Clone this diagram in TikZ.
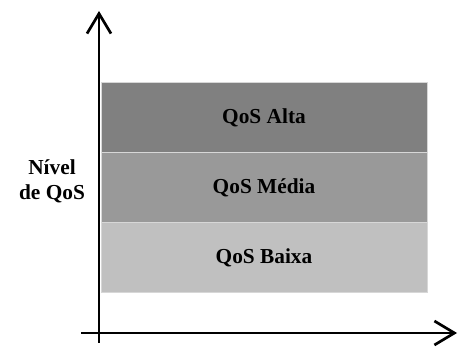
\documentclass[tikz,border=0pt]{standalone}
\usepackage{fontspec}
\setmainfont{Liberation Serif}
\usetikzlibrary{positioning,arrows.meta}
\definecolor{qosalta}{RGB}{128, 128, 128}
\definecolor{qosmedia}{RGB}{153, 153, 153}
\definecolor{qosbaixa}{RGB}{192, 192, 192}
\definecolor{bandedge}{RGB}{215, 215, 215}
\tikzstyle{band} = [rectangle, draw=bandedge, line width=0.6pt, minimum width=244.5pt,
    minimum height=52.5pt, inner sep=0pt, outer sep=0pt, font=\bfseries\fontsize{16}{19}\selectfont]
\tikzstyle{axis} = [draw, line width=2.2pt, -{Straight Barb[length=15pt, width=18pt, line width=2pt]}]

\begin{document}
\begin{tikzpicture}[x=0.75pt, y=0.75pt]
  \useasboundingbox (0,0) rectangle (458,347);
  \node [band, fill=qosalta] (alta) at (264,229.5) {QoS Alta};
  \node [band, fill=qosmedia, below=0pt of alta] (media) {QoS Média};
  \node [band, fill=qosbaixa, below=0pt of media] (baixa) {QoS Baixa};
  \node [font=\bfseries\fontsize{16}{19}\selectfont, align=center] (nivel) at (52,166) {Nível\\de QoS};
  \coordinate (y0) at (99,4);
  \coordinate (y1) at (99,336);
  \coordinate (x0) at (81,14);
  \coordinate (x1) at (457,14);
  \path [axis] (y0) -- (y1);
  \path [axis] (x0) -- (x1);
\end{tikzpicture}
\end{document}
